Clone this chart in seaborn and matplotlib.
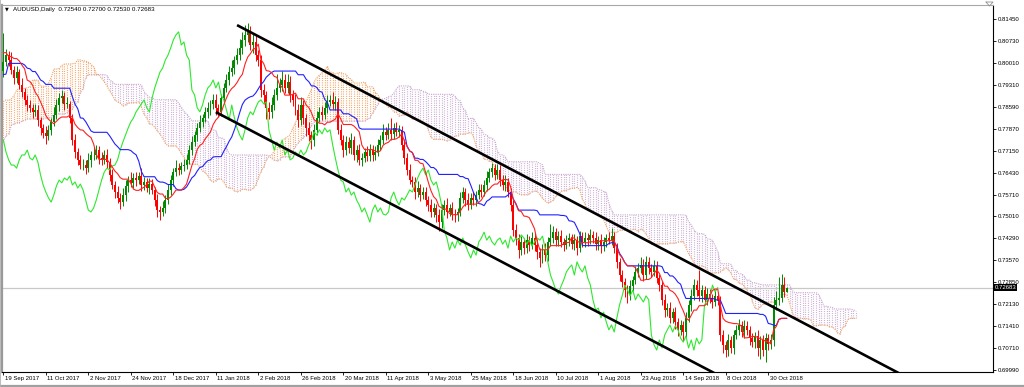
import numpy as np
import pandas as pd
import matplotlib
matplotlib.use("Agg")
import matplotlib.pyplot as plt
import matplotlib.transforms as mtransforms
from matplotlib.lines import Line2D
import seaborn as sns

# ---------------- data ----------------
title_text = "AUDUSD,Daily  0.72540 0.72700 0.72530 0.72683"
last_close = 0.72683

# history before the first visible bar (only feeds the Ichimoku lines / cloud)
pre_first_open = 0.7395
pre_close = [0.7410, 0.7450, 0.7460, 0.7520, 0.7545, 0.7535, 0.7535, 0.7540, 0.7555, 0.7575,
             0.7595, 0.7610, 0.7590, 0.7570, 0.7580, 0.7560, 0.7565, 0.7585, 0.7615, 0.7650,
             0.7685, 0.7690,
             0.7600, 0.7615, 0.7580, 0.7625, 0.7600, 0.7630, 0.7655, 0.7710, 0.7730, 0.7810,
             0.7830, 0.7900, 0.7875, 0.7935, 0.7910, 0.7900, 0.7915, 0.7980, 0.7945, 0.7985,
             0.7995,
             0.7960, 0.7985, 0.7955, 0.7915, 0.7910, 0.7915, 0.7860, 0.7855, 0.7870, 0.7840,
             0.7830, 0.7900, 0.7925, 0.7940, 0.7930, 0.7920, 0.7920, 0.7910, 0.7950, 0.7955,
             0.7970, 0.7905, 0.7945,
             0.7965, 0.7965, 0.7965, 0.8000, 0.8040, 0.8065, 0.8030, 0.8000, 0.7995, 0.8000,
             0.8005, 0.7975]
pre_upper = [20, 25, 18, 30, 22, 15, 20, 18, 25, 22, 30, 20, 18, 22, 15, 20, 18, 25, 30, 28, 20, 22,
             35, 25, 30, 20, 28, 25, 30, 35, 25, 40, 30, 35, 30, 25, 30, 28, 25, 40, 120, 30, 25,
             25, 30, 28, 35, 25, 20, 30, 22, 25, 20, 25, 30, 22, 28, 20, 25, 18, 22, 30, 25, 28, 35, 20,
             25, 20, 22, 30, 28, 60, 25, 20, 22, 18, 25, 20]
pre_lower = [25, 20, 22, 18, 25, 30, 20, 22, 18, 25, 20, 22, 30, 25, 20, 18, 22, 20, 25, 18, 22, 30,
             30, 25, 35, 28, 30, 25, 22, 30, 25, 20, 28, 25, 30, 22, 25, 30, 28, 25, 30, 22, 25,
             30, 25, 22, 30, 28, 25, 35, 30, 25, 30, 28, 25, 20, 22, 25, 20, 22, 25, 20, 28, 25, 30, 22,
             25, 22, 20, 25, 22, 30, 28, 25, 20, 22, 25, 30]

# visible daily closes (19 Sep 2017 ... 8 Nov 2018)
close = [0.8005, 0.8027, 0.8011, 0.7978, 0.7952, 0.7972, 0.7930, 0.7907, 0.7881, 0.7864,
         0.7855, 0.7842, 0.7848, 0.7815, 0.7789, 0.7773, 0.7763, 0.7783, 0.7809, 0.7832,
         0.7864, 0.7887, 0.7894, 0.7868, 0.7868, 0.7822, 0.7750, 0.7711, 0.7685, 0.7668,
         0.7668, 0.7658, 0.7685, 0.7701, 0.7701, 0.7717, 0.7691, 0.7685, 0.7701, 0.7678,
         0.7636, 0.7603, 0.7580, 0.7561, 0.7547, 0.7570, 0.7600, 0.7619, 0.7610, 0.7626,
         0.7619, 0.7632, 0.7603, 0.7613, 0.7593, 0.7606, 0.7587, 0.7554, 0.7521, 0.7515,
         0.7528, 0.7554, 0.7587, 0.7619, 0.7645, 0.7658, 0.7652, 0.7665, 0.7668, 0.7685,
         0.7717, 0.7743, 0.7766, 0.7789, 0.7809, 0.7822, 0.7842, 0.7855, 0.7868, 0.7881,
         0.7855, 0.7842, 0.7887, 0.7920, 0.7946, 0.7972, 0.7985, 0.8011, 0.8027, 0.8050,
         0.8076, 0.8093, 0.8103, 0.8060, 0.8070, 0.8027, 0.8011, 0.7913, 0.7897, 0.7855,
         0.7842, 0.7864, 0.7897, 0.7920, 0.7929, 0.7946, 0.7920, 0.7939, 0.7897, 0.7881,
         0.7848, 0.7815, 0.7864, 0.7822, 0.7789, 0.7766, 0.7750, 0.7783, 0.7822, 0.7842,
         0.7832, 0.7855, 0.7874, 0.7881, 0.7868, 0.7874, 0.7783, 0.7750, 0.7717, 0.7743,
         0.7724, 0.7750, 0.7701, 0.7717, 0.7685, 0.7691, 0.7711, 0.7698, 0.7717, 0.7701,
         0.7711, 0.7734, 0.7750, 0.7776, 0.7766, 0.7783, 0.7770, 0.7789, 0.7776, 0.7783,
         0.7734, 0.7691, 0.7652, 0.7619, 0.7613, 0.7580, 0.7593, 0.7570, 0.7580, 0.7554,
         0.7538, 0.7515, 0.7528, 0.7505, 0.7482, 0.7521, 0.7538, 0.7515, 0.7528, 0.7508,
         0.7505, 0.7515, 0.7561, 0.7580, 0.7554, 0.7538, 0.7561, 0.7554, 0.7570, 0.7587,
         0.7580, 0.7603, 0.7626, 0.7645, 0.7658, 0.7636, 0.7652, 0.7619, 0.7603, 0.7613,
         0.7580, 0.7538, 0.7456, 0.7430, 0.7391, 0.7417, 0.7397, 0.7423, 0.7407, 0.7430,
         0.7407, 0.7384, 0.7365, 0.7391, 0.7374, 0.7417, 0.7430, 0.7449, 0.7423, 0.7436,
         0.7417, 0.7407, 0.7423, 0.7430, 0.7410, 0.7423, 0.7397, 0.7436, 0.7417, 0.7430,
         0.7423, 0.7440, 0.7430, 0.7410, 0.7423, 0.7404, 0.7417, 0.7430, 0.7423, 0.7436,
         0.7397, 0.7352, 0.7309, 0.7286, 0.7260, 0.7247, 0.7273, 0.7293, 0.7319, 0.7332,
         0.7342, 0.7309, 0.7352, 0.7332, 0.7319, 0.7339, 0.7300, 0.7277, 0.7228, 0.7195,
         0.7201, 0.7169, 0.7188, 0.7156, 0.7130, 0.7146, 0.7123, 0.7169, 0.7211, 0.7241,
         0.7276, 0.7260, 0.7241, 0.7260, 0.7228, 0.7247, 0.7234, 0.7221, 0.7241, 0.7228,
         0.7113, 0.7081, 0.7064, 0.7097, 0.7071, 0.7113, 0.7130, 0.7146, 0.7123, 0.7143,
         0.7130, 0.7103, 0.7090, 0.7110, 0.7071, 0.7097, 0.7064, 0.7103, 0.7084, 0.7097,
         0.7211, 0.7228, 0.7234, 0.7276, 0.7254, 0.72683]

# wick lengths above / below the body, in pips
upper_wick = [95, 20, 15, 25, 12, 18, 10, 22, 14, 16,
              18, 12, 20, 15, 10, 14, 22, 16, 12, 25,
              20, 15, 18, 12, 22, 10, 14, 18, 12, 15,
              20, 16, 22, 14, 25, 18, 12, 20, 15, 18,
              14, 18, 12, 20, 15, 22, 18, 12, 25, 16,
              20, 14, 25, 16, 12, 20, 15, 10, 18, 14,
              22, 15, 20, 18, 12, 25, 16, 14, 20, 18,
              15, 20, 12, 18, 22, 14, 16, 20, 12, 18,
              20, 14, 12, 16, 20, 18, 25, 14, 22, 30,
              25, 33, 30, 20, 28, 22, 18, 15, 20, 12,
              18, 25, 20, 45, 22, 30, 18, 25, 20, 15,
              20, 18, 25, 15, 12, 20, 14, 18, 22, 16,
              20, 18, 22, 15, 25, 20, 12, 18, 15, 20,
              16, 22, 14, 18, 20, 15, 12, 18, 20, 16,
              18, 20, 15, 25, 16, 22, 40, 18, 20, 15,
              12, 18, 15, 20, 14, 16, 22, 12, 18, 15,
              14, 20, 16, 12, 18, 20, 15, 22, 14, 18,
              16, 12, 20, 18, 14, 22, 16, 20, 15, 18,
              20, 16, 22, 14, 18, 12, 20, 15, 18, 22,
              14, 12, 16, 20, 14, 18, 12, 20, 15, 18,
              16, 20, 14, 18, 22, 16, 45, 20, 15, 18,
              20, 14, 18, 16, 12, 20, 15, 18, 14, 20,
              16, 20, 14, 18, 15, 20, 16, 12, 18, 25,
              12, 16, 14, 18, 12, 16, 20, 14, 18, 15,
              25, 18, 20, 15, 14, 20, 16, 12, 14, 18,
              16, 20, 14, 18, 12, 16, 14, 20, 18, 22,
              20, 16, 65, 18, 14, 20, 16, 12, 18, 14,
              12, 16, 14, 20, 12, 18, 16, 20, 14, 18,
              16, 14, 18, 12, 20, 14, 16, 18, 12, 20,
              25, 30, 70, 35, 25, 2]
lower_wick = [20, 15, 18, 12, 20, 15, 14, 18, 16, 20,
              15, 20, 14, 18, 22, 16, 25, 14, 18, 12,
              14, 18, 16, 20, 12, 18, 15, 20, 16, 14,
              16, 20, 14, 22, 18, 12, 20, 16, 14, 18,
              20, 14, 18, 16, 22, 12, 18, 20, 14, 16,
              18, 14, 20, 16, 12, 18, 14, 20, 22, 25,
              14, 18, 12, 16, 20, 14, 18, 12, 16, 14,
              12, 16, 14, 18, 12, 16, 14, 20, 22, 18,
              25, 16, 14, 18, 12, 16, 14, 18, 12, 16,
              20, 18, 22, 16, 25, 20, 18, 22, 30, 35,
              25, 20, 16, 18, 14, 20, 16, 18, 22, 20,
              18, 22, 16, 20, 25, 18, 30, 20, 16, 14,
              16, 14, 18, 12, 16, 20, 14, 18, 22, 16,
              18, 20, 16, 22, 18, 20, 14, 18, 16, 20,
              16, 14, 18, 12, 16, 14, 20, 18, 14, 16,
              18, 20, 16, 14, 18, 22, 16, 20, 14, 18,
              20, 18, 16, 22, 30, 18, 16, 20, 14, 18,
              22, 18, 14, 16, 20, 18, 14, 16, 18, 14,
              16, 14, 18, 12, 16, 18, 14, 20, 16, 18,
              16, 20, 18, 22, 25, 18, 20, 16, 18, 14,
              18, 22, 30, 16, 20, 18, 14, 16, 18, 20,
              16, 18, 14, 20, 16, 18, 22, 14, 16, 18,
              18, 14, 16, 20, 18, 22, 16, 18, 14, 16,
              16, 20, 18, 16, 22, 30, 18, 16, 14, 18,
              16, 20, 14, 18, 16, 14, 18, 20, 16, 22,
              20, 18, 16, 22, 20, 18, 30, 16, 14, 18,
              14, 18, 16, 20, 14, 18, 16, 20, 14, 18,
              20, 25, 22, 18, 16, 20, 14, 18, 16, 20,
              18, 22, 16, 20, 25, 35, 18, 40, 20, 18,
              20, 16, 18, 14, 16, 1]

date_labels = ["19 Sep 2017", "11 Oct 2017", "2 Nov 2017", "24 Nov 2017", "18 Dec 2017",
               "11 Jan 2018", "2 Feb 2018", "26 Feb 2018", "20 Mar 2018", "11 Apr 2018",
               "3 May 2018", "25 May 2018", "18 Jun 2018", "10 Jul 2018", "1 Aug 2018",
               "23 Aug 2018", "14 Sep 2018", "8 Oct 2018", "30 Oct 2018"]
date_label_step = 16

price_ticks = [0.81450, 0.80730, 0.80010, 0.79310, 0.78590, 0.77870, 0.77150, 0.76430,
               0.75710, 0.75010, 0.74290, 0.73570, 0.72850, 0.72130, 0.71410, 0.70710, 0.69990]

# hand-drawn channel lines (bar index, price)
channel_upper_bar = [88, 345]
channel_upper_price = [0.8125, 0.6953]
channel_lower_bar = [80, 280]
channel_lower_price = [0.7841, 0.6933]

# ---------------- build OHLC + Ichimoku ----------------
n_pre = len(pre_close)
full_close = np.array(pre_close + close)
full_open = np.r_[pre_first_open, full_close[:-1]]
full_up = np.array(pre_upper + upper_wick) * 1e-4
full_dn = np.array(pre_lower + lower_wick) * 1e-4
full_high = np.maximum(full_open, full_close) + full_up
full_low = np.minimum(full_open, full_close) - full_dn

hi = pd.Series(full_high)
lo = pd.Series(full_low)
tenkan = (hi.rolling(9).max() + lo.rolling(9).min()) / 2
kijun = (hi.rolling(26).max() + lo.rolling(26).min()) / 2
span_a_raw = (tenkan + kijun) / 2
span_b_raw = (hi.rolling(52).max() + lo.rolling(52).min()) / 2

n = len(close)
vis = slice(n_pre, n_pre + n)
x_bars = np.arange(n)
o = full_open[vis]; c = full_close[vis]; h = full_high[vis]; l = full_low[vis]

shift = 26
cloud_x = np.arange(n + shift)
span_a = span_a_raw.values[n_pre - shift: n_pre + n]
span_b = span_b_raw.values[n_pre - shift: n_pre + n]

chik_x = np.arange(n - shift)
chik_y = np.array(close[shift:])

lines_df = pd.DataFrame({"bar": x_bars,
                         "tenkan": tenkan.values[vis],
                         "kijun": kijun.values[vis]})
chik_df = pd.DataFrame({"bar": chik_x, "chikou": chik_y})

# ---------------- figure ----------------
sns.set_theme(style="white")
plt.rcParams["font.family"] = ["Liberation Sans", "DejaVu Sans"]

W, H = 1024, 387
fig = plt.figure(figsize=(W / 100, H / 100), dpi=100)
ax_left, ax_right, ax_top, ax_bottom = 2, 993, 5, 372
ax = fig.add_axes([ax_left / W, 1 - ax_bottom / H, (ax_right - ax_left) / W, (ax_bottom - ax_top) / H])
ax.set_facecolor("white")

px_per_bar = 2.656
ax.set_xlim(-0.5, -0.5 + (ax_right - ax_left) / px_per_bar)
ax.set_ylim(0.69924, 0.81907)

sandy = "#F2A060"
thistle = "#C8A8D0"
col_a = np.where(span_a >= span_b, sandy, thistle)
ymin_c = np.minimum(span_a, span_b)
ymax_c = np.maximum(span_a, span_b)
ax.vlines(cloud_x, ymin_c, ymax_c, colors=col_a, linewidth=0.85,
          linestyles=[(0, (0.8, 1.1))], zorder=1)
ax.plot(cloud_x, span_a, color=sandy, lw=0.8, ls=(0, (1.0, 1.0)), zorder=1.5)
ax.plot(cloud_x, span_b, color=thistle, lw=0.8, ls=(0, (1.0, 1.0)), zorder=1.5)

# current price line
ax.axhline(last_close, color="#C8C8C8", lw=0.9, zorder=1.2)

# candles
bull = c >= o
cols = np.where(bull, "#008A00", "#FF0000")
ax.vlines(x_bars, l, h, colors=cols, linewidth=0.7, zorder=3)
body_h = np.where(np.abs(c - o) < 0.00012, 0.00012, c - o)
ax.bar(x_bars, body_h, bottom=o, width=0.74, color=cols, linewidth=0, zorder=3.2)

# indicator lines (seaborn)
sns.lineplot(data=chik_df, x="bar", y="chikou", ax=ax, color="#2EE82E", lw=0.8, zorder=4, legend=False)
sns.lineplot(data=lines_df, x="bar", y="tenkan", ax=ax, color="#FF2020", lw=0.8, zorder=4.2, legend=False)
sns.lineplot(data=lines_df, x="bar", y="kijun", ax=ax, color="#2020FF", lw=0.8, zorder=4.1, legend=False)

# channel lines
ax.plot(channel_upper_bar, channel_upper_price, color="black", lw=1.9, zorder=5, solid_capstyle="butt")
ax.plot(channel_lower_bar, channel_lower_price, color="black", lw=1.9, zorder=5, solid_capstyle="butt")

ax.set_xlabel("")
ax.set_ylabel("")

# axes styling
fs = 4.3
ax.yaxis.tick_right()
ax.set_yticks(price_ticks)
ax.set_yticklabels([f"{v:.5f}" for v in price_ticks])
ax.tick_params(axis="y", which="both", right=True, left=False, direction="out", length=2.2,
               width=0.6, pad=1.2, labelsize=fs, colors="black")
xt = np.arange(len(date_labels)) * date_label_step
ax.set_xticks(xt)
ax.set_xticklabels(date_labels)
ax.tick_params(axis="x", which="both", bottom=True, direction="out", length=2.2, width=0.6,
               pad=1.0, labelsize=fs, colors="black")
offset = mtransforms.ScaledTranslation(1.5 / 100, 0, fig.dpi_scale_trans)
for lbl in ax.get_xticklabels():
    lbl.set_horizontalalignment("left")
    lbl.set_transform(lbl.get_transform() + offset)

for side in ["top", "left"]:
    ax.spines[side].set_visible(True)
ax.spines["top"].set_color("#A8A8A8"); ax.spines["top"].set_linewidth(0.8)
ax.spines["left"].set_color("#9A9A9A"); ax.spines["left"].set_linewidth(1.6)
ax.spines["right"].set_color("black"); ax.spines["right"].set_linewidth(0.8)
ax.spines["bottom"].set_color("black"); ax.spines["bottom"].set_linewidth(0.8)
ax.grid(False)

# current price label on the axis
trans = mtransforms.blended_transform_factory(ax.transAxes, ax.transData)
ax.text(1.0015, last_close, f"{last_close:.5f}", transform=trans, ha="left", va="center",
        fontsize=fs, color="white", zorder=10, clip_on=False,
        bbox=dict(boxstyle="square,pad=0.15", fc="black", ec="black", lw=0))

# header
fig.text(5 / W, 1 - 9 / H, "\u25BC", fontsize=3.5, family="DejaVu Sans", color="black", va="center", ha="left")
fig.text(13 / W, 1 - 9 / H, title_text, fontsize=fs + 0.2, color="black", va="center", ha="left")

# window frame
fig.add_artist(Line2D([0, 1], [1 - 385.5 / H, 1 - 385.5 / H], transform=fig.transFigure, color="#A0A0A0", lw=1.6))
fig.add_artist(Line2D([0, 0], [0, 1], transform=fig.transFigure, color="#B0B0B0", lw=1.2))
fig.add_artist(Line2D([986 / W, 993 / W, 989.5 / W, 986 / W], [1 - 2 / H, 1 - 2 / H, 1 - 6 / H, 1 - 2 / H],
                      transform=fig.transFigure, color="#909090", lw=0.6))

fig.savefig("out.png", dpi=100, facecolor="white")
